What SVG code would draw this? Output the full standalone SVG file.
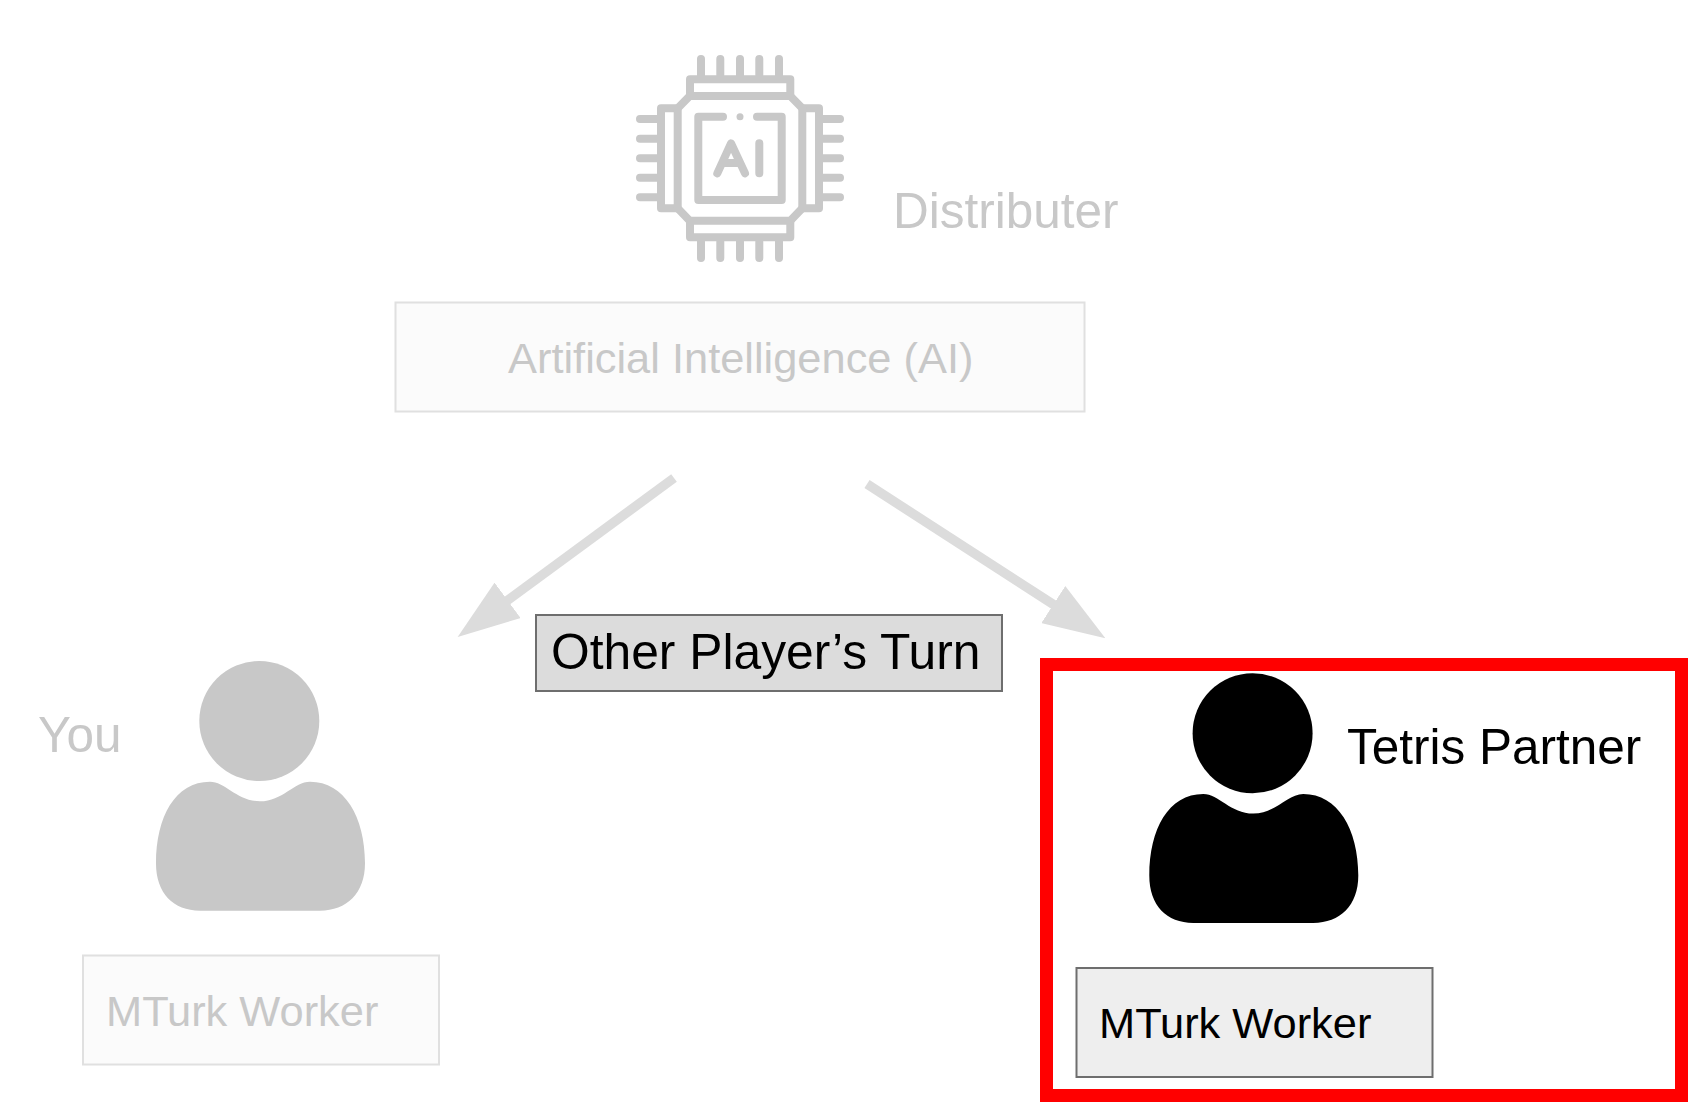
<svg xmlns="http://www.w3.org/2000/svg" width="1705" height="1111" viewBox="0 0 1705 1111">
<style>
text{font-family:"Liberation Sans",Arial,Helvetica,sans-serif}
.big{font-size:49.75px}
.mid{font-size:43.4px}
.lab{font-size:49.5px}
.dim{fill:#c8c8c8}
.ink{fill:#000}
.ghost{fill:#fbfbfb;stroke:#e0e0e0;stroke-width:2}
.chip{fill:none;stroke:#c8c8c8;stroke-width:8;stroke-linecap:round;stroke-linejoin:round}
.conn{stroke:#dcdcdc;stroke-width:9.5;fill:none;marker-end:url(#head)}
</style>
<defs>
<marker id="head" markerUnits="userSpaceOnUse" viewBox="0 0 62 44" refX="2" refY="22" markerWidth="62" markerHeight="44" orient="auto"><path d="M0 0L62 22L0 44Z" fill="#dcdcdc"/></marker>
<g id="person"><circle r="60"/><path d="M-49.3 60.7C-34 60.7-22 80.3 .7 80.3C23 80.3 35 60.7 50.7 60.7C85 60.7 105.7 95.7 105.7 142.3C105.7 172.3 87.4 189.7 60.7 189.7L-59.3 189.7C-86 189.7-103.3 172.3-103.3 142.3C-103.3 95.7-84 60.7-49.3 60.7Z"/></g>
</defs>
<rect width="1705" height="1111" fill="#fff"/>
<g id="connectors">
<path class="conn" d="M674 478L506 601.5"/>
<path class="conn" d="M867 484L1055 605.6"/>
</g>
<g id="ai-chip">
<path class="chip" d="M701 59V75M720.3 59V75M740 59V75M759.3 59V75M779 59V75M701 241.7V258M720.3 241.7V258M740 241.7V258M759.3 241.7V258M779 241.7V258M640 119H657M640 138.7H657M640 158.3H657M640 177.7H657M640 197.3H657M822.7 119H840M822.7 138.7H840M822.7 158.3H840M822.7 177.7H840M822.7 197.3H840"/>
<path class="chip" d="M690 96V79.3H790.3V96M690 220.7V237.3H790.3V220.7M677.7 108.3H661V208.3H677.7M802.3 108.3H819V208.3H802.3"/>
<path class="chip" d="M689.7 96H790.3L802.3 108.3V208.3L790.3 220.7H689.7L677.7 208.3V108.3Z"/>
<path class="chip" d="M723 116.7H698.3V200H781.7V116.7H757"/>
<path class="chip" d="M717.3 173.3L731 143.3L745 173.3M722.5 163H740M759.3 143.3V173.3"/>
<circle cx="740" cy="116.7" r="3.5" fill="#c8c8c8"/>
<text class="lab dim" x="893" y="227.5">Distributer</text>
</g>
<g id="ai-box">
<rect class="ghost" x="395.5" y="302.5" width="689" height="109"/>
<text class="mid dim" x="508" y="373">Artificial Intelligence (AI)</text>
</g>
<g id="turn-label">
<rect x="536" y="615" width="466" height="76" fill="#dcdcdc" stroke="#6e6e6e" stroke-width="2"/>
<text class="big ink" x="551" y="669">Other Player’s Turn</text>
</g>
<g id="you">
<use href="#person" x="259.3" y="721" fill="#c8c8c8"/>
<text class="lab dim" x="38" y="752">You</text>
<rect class="ghost" x="83" y="955.5" width="356" height="109"/>
<text class="mid dim" x="106" y="1026">MTurk Worker</text>
</g>
<g id="partner">
<rect x="1046.5" y="664.5" width="635" height="431" fill="#fff" stroke="#f00" stroke-width="13"/>
<use href="#person" x="1252.6" y="733.3" fill="#000"/>
<text class="lab ink" x="1347" y="764">Tetris Partner</text>
<rect x="1076.5" y="968" width="356" height="109" fill="#eee" stroke="#6e6e6e" stroke-width="2"/>
<text class="mid ink" x="1099" y="1038">MTurk Worker</text>
</g>
</svg>
